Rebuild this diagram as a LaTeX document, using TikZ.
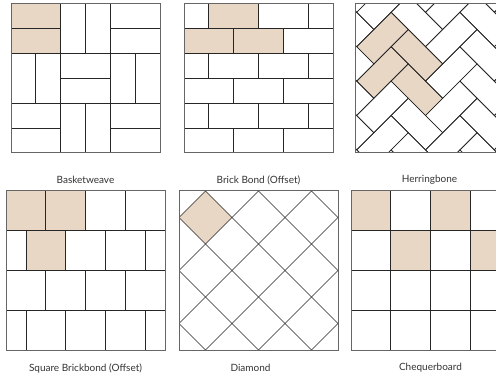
\documentclass[tikz,border=0pt]{standalone}
\usepackage{fontspec}
\setmainfont{Lato}
\definecolor{tanfill}{RGB}{233,215,198}
\begin{document}
\begin{tikzpicture}[x=1pt,y=-1pt,
  tile/.style={line width=0.7pt, draw=black!85},
  frame/.style={line width=1pt, draw=black!60},
  hl/.style={fill=tanfill},
  lbl/.style={font=\fontsize{10}{12}\selectfont, text=black!80}]
\useasboundingbox (0,0) rectangle (496,377);

% ---------- Basketweave ----------
\begin{scope}[shift={(11,4)}]
\def\s{149}
\pgfmathsetmacro\b{\s/3}
\fill[hl] (0,0) rectangle (\b,\b);
\draw[tile] (\b,0)--(\b,\s) (2*\b,0)--(2*\b,\s) (0,\b)--(\s,\b) (0,2*\b)--(\s,2*\b);
\draw[tile] (0,0.5*\b)--(\b,0.5*\b) (1.5*\b,0)--(1.5*\b,\b) (2*\b,0.5*\b)--(\s,0.5*\b);
\draw[tile] (0.5*\b,\b)--(0.5*\b,2*\b) (\b,1.5*\b)--(2*\b,1.5*\b) (2.5*\b,\b)--(2.5*\b,2*\b);
\draw[tile] (0,2.5*\b)--(\b,2.5*\b) (1.5*\b,2*\b)--(1.5*\b,\s) (2*\b,2.5*\b)--(\s,2.5*\b);
\draw[frame] (0,0) rectangle (\s,\s);
\end{scope}

% ---------- Brick Bond ----------
\begin{scope}[shift={(184,4)}]
\def\s{149}
\pgfmathsetmacro\r{\s/6}
\fill[hl] (\s/6,0) rectangle (\s/2,\r);
\fill[hl] (0,\r) rectangle (2*\s/3,2*\r);
\foreach \k in {1,...,5} \draw[tile] (0,\k*\r)--(\s,\k*\r);
\foreach \k in {0,2,4} \draw[tile] (\s/6,\k*\r)--++(0,\r) (\s/2,\k*\r)--++(0,\r) (5*\s/6,\k*\r)--++(0,\r);
\foreach \k in {1,3,5} \draw[tile] (\s/3,\k*\r)--++(0,\r) (2*\s/3,\k*\r)--++(0,\r);
\draw[frame] (0,0) rectangle (\s,\s);
\end{scope}

% ---------- Herringbone ----------
\begin{scope}[shift={(355,4)}]
\def\s{149}
\def\a{17.2}
\begin{scope}
\clip (0,0) rectangle (\s,\s);
\foreach \j in {0,1} {
  \pgfmathsetmacro\py{42.7+2*\a*\j}
  \fill[hl] (1.7,\py) -- ++(2*\a,-2*\a) -- ++(\a,\a) -- ++(-2*\a,2*\a) -- cycle;
  \fill[hl] (1.7+3*\a,\py-\a) -- ++(2*\a,2*\a) -- ++(-\a,\a) -- ++(-2*\a,-2*\a) -- cycle;
}
\foreach \i in {-1,...,2} \foreach \j in {-2,...,5} {
  \pgfmathsetmacro\px{1.7+4*\a*\i}
  \pgfmathsetmacro\py{42.7+2*\a*\j}
  \draw[tile] (\px,\py) -- ++(2*\a,-2*\a) -- ++(\a,\a) -- ++(-2*\a,2*\a) -- cycle;
  \draw[tile] (\px+3*\a,\py-\a) -- ++(2*\a,2*\a) -- ++(-\a,\a) -- ++(-2*\a,-2*\a) -- cycle;
}
\end{scope}
\draw[frame] (0,0) rectangle (\s,\s);
\end{scope}

% ---------- Square Brickbond ----------
\begin{scope}[shift={(6,191)}]
\def\s{159}
\pgfmathsetmacro\r{\s/4}
\fill[hl] (0,0) rectangle (\s/2,\r);
\fill[hl] (\s/8,\r) rectangle (3*\s/8,2*\r);
\foreach \k in {1,2,3} \draw[tile] (0,\k*\r)--(\s,\k*\r);
\foreach \k in {0,2} \draw[tile] (\s/4,\k*\r)--++(0,\r) (\s/2,\k*\r)--++(0,\r) (3*\s/4,\k*\r)--++(0,\r);
\foreach \k in {1,3} \draw[tile] (\s/8,\k*\r)--++(0,\r) (3*\s/8,\k*\r)--++(0,\r) (5*\s/8,\k*\r)--++(0,\r) (7*\s/8,\k*\r)--++(0,\r);
\draw[frame] (0,0) rectangle (\s,\s);
\end{scope}

% ---------- Diamond ----------
\begin{scope}[shift={(179,191)}]
\def\s{159}
\fill[hl] (\s/6,0) -- (0,\s/6) -- (\s/6,\s/3) -- (\s/3,\s/6) -- cycle;
\begin{scope}
\clip (0,0) rectangle (\s,\s);
\foreach \k in {-5,-3,...,5} \draw[tile] ({\k*\s/6-\s},-\s) -- ({\k*\s/6+2*\s},2*\s);
\foreach \k in {1,3,...,11} \draw[tile] ({\k*\s/6+\s},-\s) -- ({\k*\s/6-2*\s},2*\s);
\end{scope}
\draw[frame] (0,0) rectangle (\s,\s);
\end{scope}

% ---------- Chequerboard ----------
\begin{scope}[shift={(351,191)}]
\def\s{159}
\pgfmathsetmacro\r{\s/4}
\fill[hl] (0,0) rectangle (\r,\r);
\fill[hl] (2*\r,0) rectangle (3*\r,\r);
\fill[hl] (\r,\r) rectangle (2*\r,2*\r);
\fill[hl] (3*\r,\r) rectangle (4*\r,2*\r);
\foreach \k in {1,2,3} \draw[tile] (0,\k*\r)--(\s,\k*\r) (\k*\r,0)--(\k*\r,\s);
\draw[frame] (0,0) rectangle (\s,\s);
\end{scope}

% ---------- Labels ----------
\node[lbl] (l1) at (85.5,180) {Basketweave};
\node[lbl] (l2) at (258.5,180) {Brick Bond (Offset)};
\node[lbl] (l3) at (429.5,180) {Herringbone};
\node[lbl] (l4) at (85.5,368) {Square Brickbond (Offset)};
\node[lbl] (l5) at (250.5,368) {Diamond};
\node[lbl] (l6) at (430.5,368) {Chequerboard};
\end{tikzpicture}
\end{document}
